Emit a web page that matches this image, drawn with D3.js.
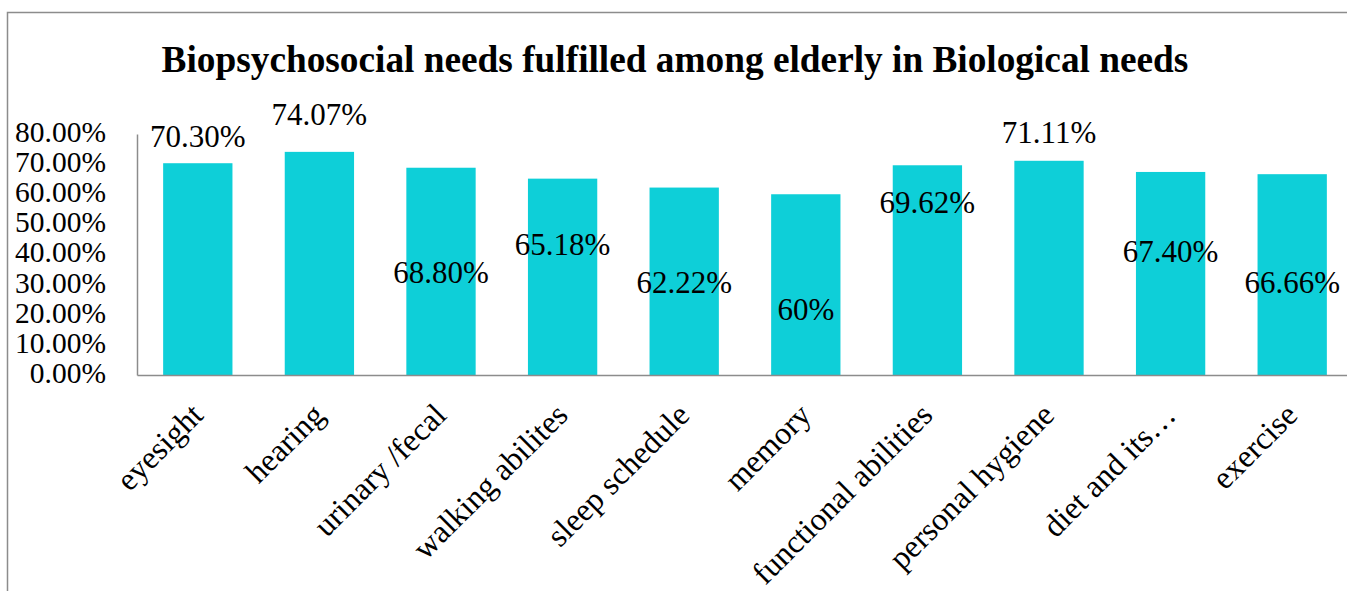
<!DOCTYPE html>
<html>
<head>
<meta charset="utf-8">
<script src="https://cdn.jsdelivr.net/npm/d3@7"></script>
<style>
	body { margin: 0; background: #fff; }
	svg { display: block; }
</style>
</head>
<body>
<svg id="chart"></svg>
<script>
const categories = ["eyesight", "hearing", "urinary /fecal", "walking abilites", "sleep schedule", "memory", "functional abilities", "personal hygiene", "diet and its…", "exercise"];
const values = [70.30, 74.07, 68.80, 65.18, 62.22, 60, 69.62, 71.11, 67.40, 66.66];
const valueLabels = ["70.30%", "74.07%", "68.80%", "65.18%", "62.22%", "60%", "69.62%", "71.11%", "67.40%", "66.66%"];
const yTicks = [0, 10, 20, 30, 40, 50, 60, 70, 80];
// label baselines in axis units, the labels were dragged by hand in the original
const labelLevels = [75.6, 82.9, 30.5, 39.8, 27.2, 18.2, 53.7, 76.9, 37.5, 27.2];

const width = 1347;
const height = 591;
const font = "'Liberation Serif', 'Times New Roman', serif";

const svg = d3.select("#chart").attr("width", width).attr("height", height);

// Margin convention (plot runs a bit past the right edge, like the original)
const margin = { top: 134, left: 137, bottom: 216, right: -6 };

const x = d3.scaleBand()
	.domain(categories)
	.range([margin.left, width - margin.right])
	.paddingInner(0.43)
	.paddingOuter(0.215);

const y = d3.scaleLinear()
	.domain([0, 80])
	.range([height - margin.bottom, margin.top]);

// outer frame (only left and top show in the crop)
svg.append("path")
	.attr("d", `M7.5,${height} V12.5 H${width}`)
	.attr("fill", "none")
	.attr("stroke", "#8c8c8c")
	.attr("stroke-width", 1.5);

// Title
svg.append("text")
	.attr("x", 675)
	.attr("y", 72)
	.attr("text-anchor", "middle")
	.attr("font-family", font)
	.attr("font-weight", "bold")
	.attr("font-size", 37.3)
	.text("Biopsychosocial needs fulfilled among elderly in Biological needs");

// Bars
svg.selectAll("rect.bar")
	.data(values)
	.enter()
	.append("rect")
	.attr("class", "bar")
	.attr("x", (d, i) => x(categories[i]))
	.attr("y", (d) => y(d))
	.attr("width", x.bandwidth())
	.attr("height", (d) => y(0) - y(d))
	.attr("fill", "#0ecfd8");

// Y axis
const yAxis = svg.append("g")
	.attr("transform", `translate(${margin.left},0)`)
	.call(d3.axisLeft(y).tickValues(yTicks).tickSize(0).tickPadding(31).tickFormat((d) => d.toFixed(2) + "%"));
yAxis.select(".domain").attr("stroke", "#8c8c8c").attr("stroke-width", 1.5);
yAxis.selectAll("text")
	.attr("font-family", font)
	.attr("font-size", 29.5)
	.attr("fill", "#000")
	.attr("dy", "0.25em");

// X axis
const xAxis = svg.append("g")
	.attr("transform", `translate(0,${y(0)})`)
	.call(d3.axisBottom(x).tickSize(0).tickFormat(""));
xAxis.select(".domain").attr("stroke", "#8c8c8c").attr("stroke-width", 1.5);

// Category labels, rotated
svg.selectAll("text.cat")
	.data(categories)
	.enter()
	.append("text")
	.attr("class", "cat")
	.attr("transform", (d) => `translate(${x(d) + x.bandwidth() / 2 + 7},${y(0) + 42}) rotate(-45)`)
	.attr("text-anchor", "end")
	.attr("font-family", font)
	.attr("font-size", 32)
	.text((d) => d);

// Data labels
svg.selectAll("text.val")
	.data(valueLabels)
	.enter()
	.append("text")
	.attr("class", "val")
	.attr("x", (d, i) => x(categories[i]) + x.bandwidth() / 2)
	.attr("y", (d, i) => y(labelLevels[i]))
	.attr("text-anchor", "middle")
	.attr("font-family", font)
	.attr("font-size", 31)
	.text((d) => d);
</script>
</body>
</html>
